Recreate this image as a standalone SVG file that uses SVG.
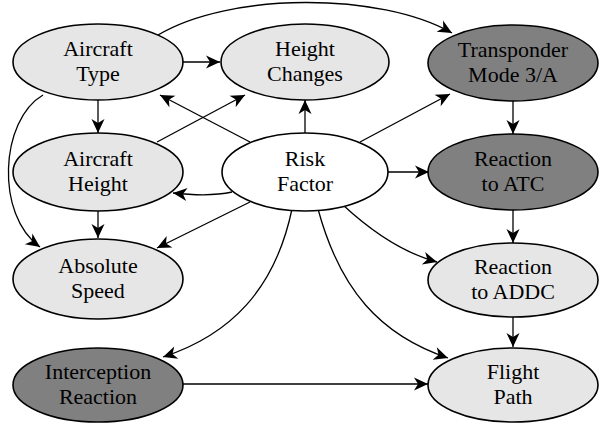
<svg xmlns="http://www.w3.org/2000/svg" width="615" height="423" viewBox="0 0 615 423">
<style>
.n ellipse{stroke:#000;stroke-width:1.6}
.light{fill:#e6e6e6}
.dark{fill:#808080}
.white{fill:#fff}
.n text{font-family:'Liberation Serif','Times New Roman',serif;font-size:22px;fill:#000;text-anchor:middle}
.e path{fill:none;stroke:#000;stroke-width:1.3;marker-end:url(#arr)}
</style>
<defs>
<marker id="arr" markerUnits="userSpaceOnUse" markerWidth="18" markerHeight="16" viewBox="-15 -8 17 16" refX="0" refY="0" orient="auto">
<path d="M0,0 L-14,-6.5 L-10,0 L-14,6.5 Z" fill="#000"/>
</marker>
</defs>
<rect width="615" height="423" fill="#fff"/>
<g id="connectors" class="e">
<path d="M183,62 L220,62"/>
<path d="M98,100 L98,133"/>
<path d="M158,35 C230,-8 380,-8 452,33"/>
<path d="M43,95 C0,120 -5,215 40,247"/>
<path d="M157,142 L245,95"/>
<path d="M98,211 L98,238"/>
<path d="M250,142 L160,95"/>
<path d="M305,133 L305,100"/>
<path d="M232,192 Q210,197 173,193"/>
<path d="M360,142 L450,94"/>
<path d="M388,172 L429,172"/>
<path d="M250,202 L157,248"/>
<path d="M343,205 C370,230 400,252 437,262"/>
<path d="M318,209 C340,290 380,335 448,358"/>
<path d="M292,209 C275,290 230,335 163,357"/>
<path d="M513,101 L513,134"/>
<path d="M513,210 L513,243"/>
<path d="M513,317 L513,347"/>
<path d="M183,384 L428,384"/>
</g>
<g id="aircraft-type" class="n"><ellipse class="light" cx="98" cy="62" rx="85" ry="38"/><text x="98" y="56">Aircraft</text><text x="98" y="81">Type</text></g>
<g id="height-changes" class="n"><ellipse class="light" cx="305" cy="62" rx="84" ry="38"/><text x="305" y="56">Height</text><text x="305" y="81">Changes</text></g>
<g id="transponder" class="n"><ellipse class="dark" cx="513" cy="63" rx="85" ry="38"/><text x="513" y="57">Transponder</text><text x="513" y="82">Mode 3/A</text></g>
<g id="aircraft-height" class="n"><ellipse class="light" cx="98" cy="172" rx="85" ry="39"/><text x="98" y="166">Aircraft</text><text x="98" y="191">Height</text></g>
<g id="risk-factor" class="n"><ellipse class="white" cx="305" cy="172" rx="83" ry="39"/><text x="305" y="166">Risk</text><text x="305" y="191">Factor</text></g>
<g id="reaction-atc" class="n"><ellipse class="dark" cx="513" cy="172" rx="85" ry="38"/><text x="513" y="166">Reaction</text><text x="513" y="191">to ATC</text></g>
<g id="absolute-speed" class="n"><ellipse class="light" cx="98" cy="279" rx="85" ry="40"/><text x="98" y="273">Absolute</text><text x="98" y="298">Speed</text></g>
<g id="reaction-addc" class="n"><ellipse class="light" cx="513" cy="280" rx="85" ry="37"/><text x="513" y="274">Reaction</text><text x="513" y="299">to ADDC</text></g>
<g id="interception" class="n"><ellipse class="dark" cx="98" cy="385" rx="85" ry="37"/><text x="98" y="379">Interception</text><text x="98" y="404">Reaction</text></g>
<g id="flight-path" class="n"><ellipse class="light" cx="513" cy="385" rx="85" ry="37"/><text x="513" y="379">Flight</text><text x="513" y="404">Path</text></g>
</svg>
